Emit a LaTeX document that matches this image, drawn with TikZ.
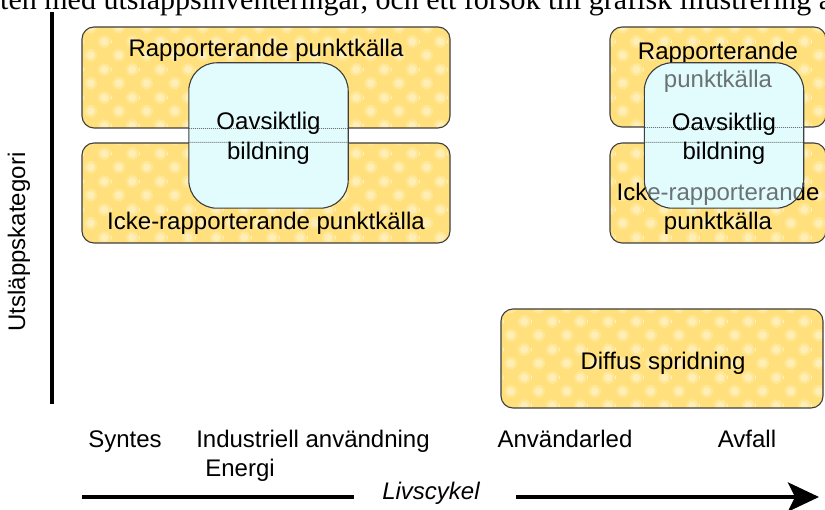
\documentclass[tikz,border=0pt]{standalone}
\usepackage{fontspec}
\setmainfont{Liberation Serif}
\newfontfamily\arialfont{Liberation Sans}
\usetikzlibrary{arrows.meta,patterns.meta}

\definecolor{boxyellow}{HTML}{FFE07C}
\definecolor{spotmid}{HTML}{FFE796}
\definecolor{spotlight}{HTML}{FFEFB6}
\definecolor{boxcyan}{HTML}{E2FCFE}
\definecolor{edgegray}{HTML}{3E3E3E}
\definecolor{seegray}{HTML}{6A7274}

% soft light spots on the yellow fields
\tikzdeclarepattern{
  name=yellowspots,
  type=colored,
  bottom left={(0pt,0pt)},
  top right={(28pt,28pt)},
  tile size={(28pt,28pt)},
  code={
    \fill[spotmid] (7pt,7pt) circle (6.5pt);
    \fill[spotlight] (7pt,7pt) circle (4pt);
    \fill[spotmid] (21pt,21pt) circle (6.5pt);
    \fill[spotlight] (21pt,21pt) circle (4pt);
  }
}

\begin{document}
\begin{tikzpicture}[x=1pt,y=-1pt,
  lbl/.style={font=\arialfont\fontsize{24}{29}\selectfont, inner sep=0pt, anchor=base},
  seetext/.style={lbl, text=seegray},
  ybox/.style={draw=edgegray, line width=1.1pt, rounded corners=12pt,
    pattern=yellowspots, preaction={fill=boxyellow}, inner sep=0pt},
  bfill/.style={fill=boxcyan, rounded corners=28pt, inner sep=0pt,
    minimum width=159pt, minimum height=145pt},
  bedge/.style={draw=edgegray, line width=1.1pt, rounded corners=28pt},
  seeline/.style={draw=seegray, line width=0.9pt, dash pattern=on 1pt off 1pt, rounded corners=12pt},
  axisline/.style={line width=4.2pt, black},
]
\useasboundingbox (0,0) rectangle (825,510);

% running text above the figure
\node[anchor=base west, inner sep=0pt, font=\fontsize{30}{36}\selectfont] (caption) at (0,9.5)
  {ten med utsläppsinventeringar, och ett försök till grafisk illustrering av};

% vertical axis
\coordinate (ytop) at (52,12);
\coordinate (ybot) at (52,404);
\draw[axisline] (ytop) -- (ybot);
\node[lbl, anchor=center, rotate=90] (ylab) at (19,242) {Utsläppskategori};

% left group
\node[ybox, minimum width=368pt, minimum height=101pt] (rp) at (266,77.5) {};
\node[ybox, minimum width=368pt, minimum height=100pt] (ir) at (266,193) {};
\node[lbl] (rpt) at (266,57) {Rapporterande punktkälla};
\node[lbl] (irt) at (266,230) {Icke-rapporterande punktkälla};

\node[bfill] (ob) at (268.5,135.5) {};
\begin{scope}
  \clip[rounded corners=28pt] (ob.south west) rectangle (ob.north east);
  \draw[seeline] (rp.south west) rectangle (rp.north east);
  \draw[seeline] (ir.south west) rectangle (ir.north east);
\end{scope}
\draw[bedge] (ob.south west) rectangle (ob.north east);
\node[lbl] (obt1) at (268.5,130) {Oavsiktlig};
\node[lbl] (obt2) at (268.5,160) {bildning};

% right group
\node[ybox, minimum width=216pt, minimum height=100pt] (rpR) at (718,77) {};
\node[ybox, minimum width=216pt, minimum height=100pt] (irR) at (718,193) {};
\node[lbl] (rpRa) at (718,60) {Rapporterande};
\node[lbl] (rpRb) at (718,88) {punktkälla};
\node[lbl] (irRa) at (718,201) {Icke-rapporterande};
\node[lbl] (irRb) at (718,230) {punktkälla};

\node[bfill] (obR) at (724,135.5) {};
\begin{scope}
  \clip[rounded corners=28pt] (obR.south west) rectangle (obR.north east);
  \draw[seeline] (rpR.south west) rectangle (rpR.north east);
  \draw[seeline] (irR.south west) rectangle (irR.north east);
  \node[seetext] (rpRbs) at (rpRb.base) {punktkälla};
  \node[seetext] (irRas) at (irRa.base) {Icke-rapporterande};
\end{scope}
\draw[bedge] (obR.south west) rectangle (obR.north east);
\node[lbl] (obRt1) at (724,131) {Oavsiktlig};
\node[lbl] (obRt2) at (724,160) {bildning};

% diffuse spreading
\node[ybox, minimum width=322pt, minimum height=99pt] (dif) at (662,358.5) {};
\node[lbl] (dift) at (663,370) {Diffus spridning};

% life-cycle stages
\node[lbl] (syn) at (125,448) {Syntes};
\node[lbl] (ind) at (313,448) {Industriell användning};
\node[lbl] (ene) at (240,477) {Energi};
\node[lbl] (anv) at (565,448) {Användarled};
\node[lbl] (avf) at (747,448) {Avfall};

% life-cycle arrow
\coordinate (la) at (82,497);
\coordinate (lb) at (354,497);
\coordinate (lc) at (516,497);
\coordinate (ld) at (819,497);
\node[lbl, font=\arialfont\itshape\fontsize{24}{29}\selectfont] (cyc) at (431,500) {Livscykel};
\draw[axisline] (la) -- (lb);
\draw[axisline, -{Stealth[length=31pt, width=29pt, inset=7pt]}] (lc) -- (ld);
\end{tikzpicture}
\end{document}
